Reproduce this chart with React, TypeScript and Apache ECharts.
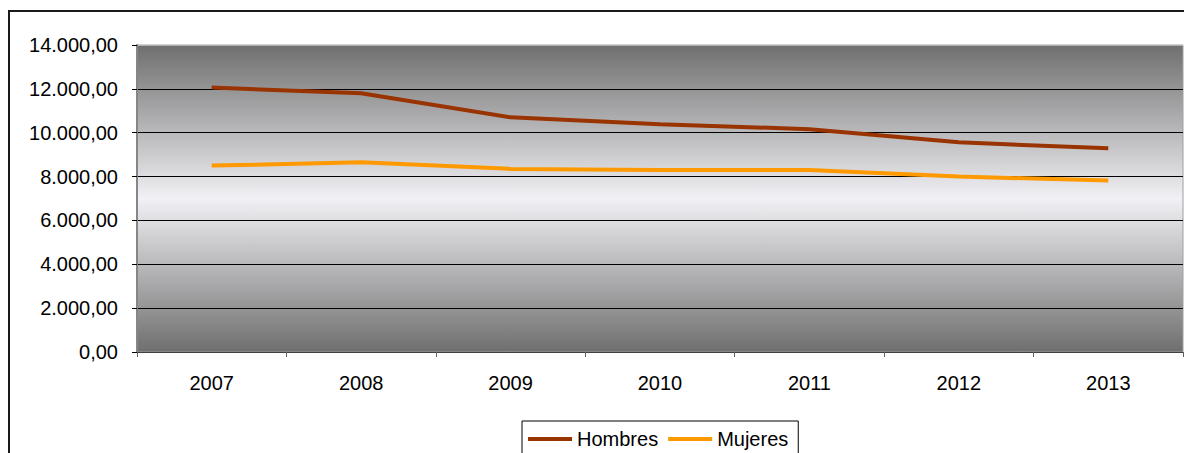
import React, { useEffect, useRef } from "react";
import * as echarts from "echarts";

const years = ["2007", "2008", "2009", "2010", "2011", "2012", "2013"];
const hombres = [12060, 11800, 10700, 10390, 10160, 9560, 9290];
const mujeres = [8500, 8650, 8350, 8300, 8300, 8000, 7820];
const seriesNames = ["Hombres", "Mujeres"];
const seriesColors = ["#993300", "#FF9900"];
const yMin = 0;
const yMax = 14000;
const yStep = 2000;

const FONT = "'Liberation Sans', Arial, sans-serif";

function fmt(v: number): string {
  const parts = v.toFixed(2).split(".");
  const g = parts[0].replace(/\B(?=(\d{3})+(?!\d))/g, ".");
  return g + "," + parts[1];
}

export default function App() {
  const ref = useRef<HTMLDivElement>(null);
  useEffect(() => {
    if (!ref.current) return;
    const chart = echarts.init(ref.current, undefined, { renderer: "svg" });
    const nLines = Math.round((yMax - yMin) / yStep) + 1;
    const splitColors: string[] = [];
    for (let i = 0; i < nLines; i++) splitColors.push(i === nLines - 1 ? "#b0b0b0" : "#000000");
    chart.setOption({
      animation: false,
      backgroundColor: "#ffffff",
      textStyle: { fontFamily: FONT },
      graphic: [
        {
          type: "rect",
          shape: { x: 9, y: 11, width: 1200, height: 500 },
          style: { fill: "none", stroke: "#1a1a1a", lineWidth: 2 },
        },
      ],
      grid: {
        left: 137,
        right: 1,
        top: 45,
        bottom: 101,
        show: true,
        backgroundColor: new echarts.graphic.LinearGradient(0, 0, 0, 1, [
          { offset: 0, color: "#6f6f6f" },
          { offset: 0.5, color: "#f1f1f5" },
          { offset: 1, color: "#6f6f6f" },
        ]),
        borderColor: "#a0a0a0",
        borderWidth: 1,
      },
      xAxis: {
        type: "category",
        data: years,
        boundaryGap: true,
        axisLine: { lineStyle: { color: "#404040", width: 1 } },
        axisTick: { show: true, length: 5, lineStyle: { color: "#606060" } },
        axisLabel: { color: "#000", fontSize: 20, margin: 21, fontFamily: FONT },
        splitLine: { show: false },
      },
      yAxis: {
        type: "value",
        min: yMin,
        max: yMax,
        interval: yStep,
        axisLine: { show: true, lineStyle: { color: "#868686", width: 2 } },
        axisTick: { show: true, length: 5, lineStyle: { color: "#000" } },
        axisLabel: { formatter: fmt, fontSize: 20, margin: 19, color: "#000", fontFamily: FONT },
        splitLine: { show: true, lineStyle: { color: splitColors, width: 1 } },
      },
      legend: {
        left: 522,
        top: 421,
        orient: "horizontal",
        padding: [8, 10, 20, 6],
        itemGap: 10,
        itemWidth: 44,
        itemHeight: 4,
        borderColor: "#000",
        borderWidth: 1,
        backgroundColor: "#fff",
        textStyle: { fontSize: 20, color: "#000", fontFamily: FONT },
        data: seriesNames.map((n) => ({ name: n, icon: "rect" })),
      },
      series: [
        {
          name: seriesNames[0],
          type: "line",
          data: hombres,
          symbol: "none",
          lineStyle: { width: 4, color: seriesColors[0] },
          itemStyle: { color: seriesColors[0] },
        },
        {
          name: seriesNames[1],
          type: "line",
          data: mujeres,
          symbol: "none",
          lineStyle: { width: 4, color: seriesColors[1] },
          itemStyle: { color: seriesColors[1] },
        },
      ],
    });
    return () => chart.dispose();
  }, []);
  return (
    <div
      ref={ref}
      style={{ position: "fixed", left: 0, top: 0, width: 1184, height: 453 }}
    />
  );
}
